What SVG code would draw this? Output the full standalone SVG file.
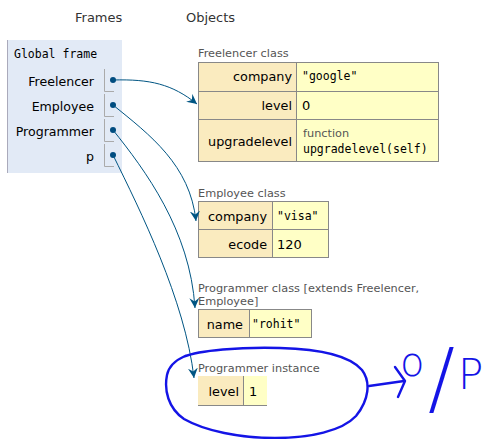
<svg xmlns="http://www.w3.org/2000/svg" width="489" height="439" viewBox="0 0 489 439">
<defs>
<style>
.hd{font-family:"DejaVu Sans",Verdana,sans-serif;font-size:13px;fill:#333}
.var{font-family:"DejaVu Sans",Verdana,sans-serif;font-size:12.6px;fill:#000;text-anchor:end}
.key{font-family:"DejaVu Sans",Verdana,sans-serif;font-size:12.8px;fill:#000;text-anchor:end}
.lbl{font-family:"DejaVu Sans",Verdana,sans-serif;font-size:11.3px;fill:#555}
.mono{font-family:"DejaVu Sans Mono","Liberation Mono",monospace;font-size:11.5px;fill:#000}
.num{font-family:"DejaVu Sans",Verdana,sans-serif;font-size:13px;fill:#000}
.kc{fill:#faebbf}
.vc{fill:#ffffc6}
.bd{fill:none;stroke:#888;stroke-width:1}
.cellln{stroke:#aaa;stroke-width:1;fill:none}
.dot{fill:#004c80}
.conn{fill:none;stroke:#005583;stroke-width:1}
.ink{fill:none;stroke:#1414e6;stroke-width:2.4;stroke-linecap:round;stroke-linejoin:round}
.inktxt{font-family:"DejaVu Sans",sans-serif;fill:#1414e6;font-weight:300}
</style>
<marker id="ah" markerWidth="11" markerHeight="10" refX="10" refY="5" orient="auto" markerUnits="userSpaceOnUse">
<path d="M0,0 L10,5 L0,10 L3.5,5 Z" fill="#005583"/>
</marker>
</defs>

<text class="hd" x="75" y="22">Frames</text>
<text class="hd" x="186" y="22">Objects</text>

<g id="global-frame">
<rect x="7" y="40" width="115" height="133" fill="#e2eaf6"/>
<line x1="7.5" y1="40" x2="7.5" y2="173" stroke="#aab" stroke-width="1"/>
<text class="mono" x="14" y="58">Global frame</text>
<text class="var" x="94" y="86">Freelencer</text>
<text class="var" x="94" y="111">Employee</text>
<text class="var" x="94" y="136">Programmer</text>
<text class="var" x="94" y="161">p</text>
<path class="cellln" d="M104.5,69 V91.5 H114 M104.5,94 V116.5 H114 M104.5,119 V141.5 H114 M104.5,144 V166.5 H114"/>
<circle class="dot" cx="113" cy="80" r="3"/>
<circle class="dot" cx="113" cy="105" r="3"/>
<circle class="dot" cx="113" cy="130" r="3"/>
<circle class="dot" cx="113" cy="155" r="3"/>
</g>

<g id="freelencer-class">
<text class="lbl" x="198" y="57">Freelencer class</text>
<rect class="kc" x="198" y="62" width="98" height="100"/>
<rect class="vc" x="296" y="62" width="143" height="100"/>
<rect class="bd" x="198.5" y="62.5" width="240" height="99"/>
<path class="bd" d="M296.5,62 V162 M198,91.5 H439 M198,119.5 H439"/>
<text class="key" x="292" y="81">company</text>
<text class="key" x="292" y="110">level</text>
<text class="key" x="292" y="146">upgradelevel</text>
<text class="mono" x="302" y="80">"google"</text>
<text class="num" x="302" y="110">0</text>
<text class="lbl" x="303" y="137">function</text>
<text class="mono" x="303" y="153">upgradelevel(self)</text>
</g>

<g id="employee-class">
<text class="lbl" x="198" y="197">Employee class</text>
<rect class="kc" x="198" y="201" width="74" height="57"/>
<rect class="vc" x="272" y="201" width="57" height="57"/>
<rect class="bd" x="198.5" y="201.5" width="130" height="56"/>
<path class="bd" d="M272.5,201 V258 M198,229.5 H329"/>
<text class="key" x="267" y="221">company</text>
<text class="key" x="267" y="249">ecode</text>
<text class="mono" x="277" y="220">"visa"</text>
<text class="num" x="277" y="249">120</text>
</g>

<g id="programmer-class">
<text class="lbl" x="198" y="292">Programmer class [extends Freelencer,</text>
<text class="lbl" x="198" y="305">Employee]</text>
<rect class="kc" x="198" y="309" width="51" height="29"/>
<rect class="vc" x="249" y="309" width="63" height="29"/>
<rect class="bd" x="198.5" y="309.5" width="113" height="28"/>
<path class="bd" d="M249.5,309 V338"/>
<text class="key" x="243" y="329">name</text>
<text class="mono" x="252" y="328">"rohit"</text>
</g>

<g id="programmer-instance">
<text class="lbl" x="198" y="372">Programmer instance</text>
<rect class="kc" x="198" y="376" width="45" height="29"/>
<rect class="vc" x="244" y="376" width="23" height="29"/>
<path class="bd" d="M243.5,376 V405 M198,405.5 H267"/>
<text class="key" x="239" y="396">level</text>
<text class="num" x="249" y="396">1</text>
</g>

<g id="connectors">
<path class="conn" marker-end="url(#ah)" d="M113,80 C150,79 172,84 197,104"/>
<path class="conn" marker-end="url(#ah)" d="M113,105 C150,135 190,165 196,221"/>
<path class="conn" marker-end="url(#ah)" d="M113,130 C145,170 190,230 195,308"/>
<path class="conn" marker-end="url(#ah)" d="M113,155 C140,210 185,300 194,378"/>
</g>

<g id="annotation">
<path class="ink" d="M183,357 C200,350 240,347 280,348 C320,349 350,356 362,370 C371,382 369,400 356,416 C342,431 310,438 275,438 C240,438 205,431 184,419 C168,408 164,390 167,375 C169,365 176,360 185,356"/>
<path class="ink" d="M369,386 L404,381"/>
<path class="ink" d="M395,367 L405,381 L398,397"/>
<text class="inktxt" x="400" y="376" font-size="40">o</text>
<text class="inktxt" x="428" y="406" font-size="80">/</text>
<text class="inktxt" x="458" y="389" font-size="42">P</text>
</g>
</svg>
